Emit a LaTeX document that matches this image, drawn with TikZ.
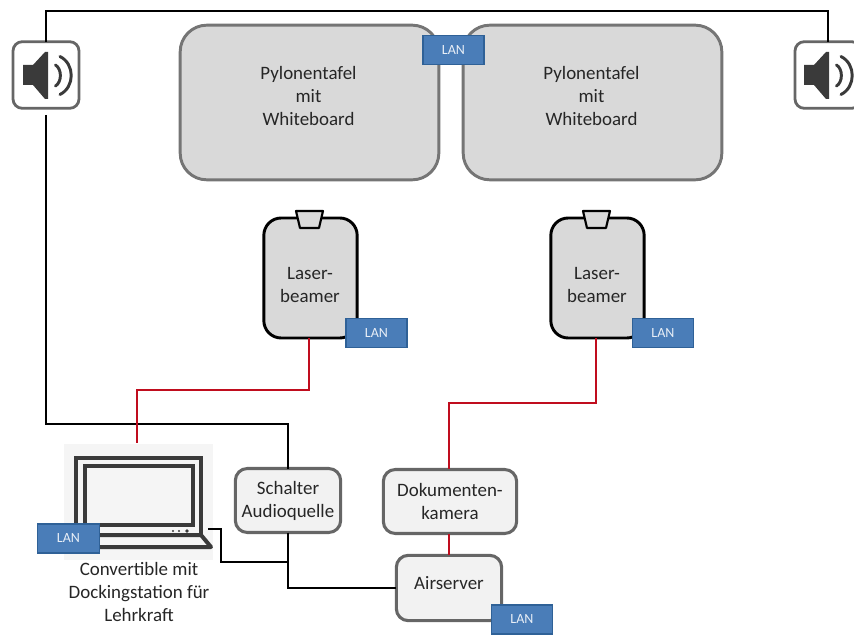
\documentclass[tikz,border=0pt]{standalone}
\usepackage{fontspec}
\setmainfont{Carlito}
\definecolor{panelfill}{HTML}{D9D9D9}
\definecolor{panelline}{HTML}{757575}
\definecolor{softfill}{HTML}{F2F2F2}
\definecolor{softline}{HTML}{666666}
\definecolor{lanfill}{HTML}{4A7DB8}
\definecolor{lanline}{HTML}{2F6197}
\definecolor{redline}{HTML}{C00D1E}
\definecolor{icon}{HTML}{3A3A3A}
\definecolor{txt}{HTML}{262626}
\newcommand{\speakericon}[1]{%
  \begin{scope}[xshift=#1*0.75pt]
    \fill[icon] (23,65)--(33,65)--(45,52)--(48,52)--(48,99)--(45,99)--(33,85)--(23,85)--cycle;
    \draw[icon,line width=2.2pt,line cap=round] (55.5,65) .. controls (62,69) and (62,82) .. (55.5,86);
    \draw[icon,line width=2.2pt,line cap=round] (60,56.5) .. controls (75,64) and (75,87) .. (60,94.5);
  \end{scope}}
\tikzset{
  every node/.style={outer sep=0pt,inner sep=0pt,align=center,text=txt,font=\fontsize{14.2}{17.2}\selectfont},
  panel/.style={draw=panelline,fill=panelfill,line width=2.2pt,rounded corners=20pt,minimum width=194pt,minimum height=116pt},
  beamer/.style={draw=black,fill=panelfill,line width=2.2pt,rounded corners=13pt,minimum width=70pt,minimum height=90pt},
  soft/.style={draw=softline,fill=softfill,line width=2.3pt,rounded corners=9pt},
  spk/.style={draw=softline,fill=white,line width=2.1pt,rounded corners=7pt,minimum width=49.5pt,minimum height=50pt},
  lan/.style={draw=lanline,fill=lanfill,line width=1.1pt,minimum width=45.5pt,minimum height=22pt,text=white!88!lanfill,font=\fontsize{10.5}{12}\selectfont},
  blackwire/.style={draw=black,line width=1.6pt},
  redwire/.style={draw=redline,line width=1.9pt},
  lens/.style={draw=black,fill=panelfill,line width=1.6pt,line join=round},
  laptop/.style={draw=icon,line width=3pt},
}
\begin{document}
\begin{tikzpicture}[x=0.75pt,y=-0.75pt]
\useasboundingbox (0,0) rectangle (854,635);
\clip (0,0) rectangle (854,635);
% laptop backdrop
\fill[black!4] (64,444) rectangle (213,560);
% nodes
\node[spk] (spkL) at (46,75) {};
\node[spk] (spkR) at (828,75) {};
\node[panel] (tafelL) at (309.5,102.5) {};
\node[panel] (tafelR) at (592.5,102.5) {};
\node[beamer] (beamL) at (310.5,278) {};
\node[beamer] (beamR) at (597.5,278) {};
\node[soft,minimum width=79pt,minimum height=48pt] (schalter) at (288,500.5) {Schalter\\Audioquelle};
\node[soft,minimum width=100pt,minimum height=48pt] (doku) at (450,501.5) {Dokumenten-\\kamera};
\node[soft,minimum width=79pt,minimum height=49pt] (air) at (449,588) {};
% texts on the boxes
\node (tafelLtext) at (308.5,96) {Pylonentafel\\mit\\Whiteboard};
\node (tafelRtext) at (591.5,96) {Pylonentafel\\mit\\Whiteboard};
\node (beamLtext) at (310,285) {Laser-\\beamer};
\node (beamRtext) at (597,285) {Laser-\\beamer};
\node (airtext) at (449,583) {Airserver};
\node (lapcap) at (139,592) {Convertible mit\\Dockingstation für\\Lehrkraft};
% free ends and bends
\coordinate (topL) at (spkL.north |- 0,11);
\coordinate (topR) at (spkR.north |- 0,11);
\coordinate (spkLout) at (46,115);
\coordinate (audioBend) at (spkL.north |- 0,424);
\coordinate (lapOut) at (208,529);
\coordinate (lapBend1) at (221,529);
\coordinate (lapBend2) at (221,562);
\coordinate (lapJoin) at (schalter.south |- 0,562);
\coordinate (airBend) at (schalter.south |- air.west);
\coordinate (lapTop) at (137,443);
\coordinate (beamLout) at (309,338);
\coordinate (beamRout) at (596,338);
\coordinate (redL) at (309,390);
\coordinate (redLb) at (137,390);
\coordinate (redR) at (596,403);
\coordinate (redRb) at (449,403);
\coordinate (dokuIn) at (449,469);
% connectors
\draw[blackwire] (spkL.north) -- (topL) -- (topR) -- (spkR.north);
\draw[blackwire] (spkLout) -- (audioBend) -- (schalter.north |- audioBend) -- (schalter.north);
\draw[blackwire] (schalter.south) -- (airBend) -- (air.west);
\draw[blackwire] (lapOut) -- (lapBend1) -- (lapBend2) -- (lapJoin);
\draw[redwire] (beamLout) -- (redL) -- (redLb) -- (lapTop);
\draw[redwire] (beamRout) -- (redR) -- (redRb) -- (dokuIn);
\draw[redwire] (doku.south -| air.north) -- (air.north);
% speaker icons
\speakericon{0}
\speakericon{781}
% projector lenses
\draw[lens] (296,211) -- (323,211) -- (319,228) -- (300,228) -- cycle;
\draw[lens] (583,211) -- (610,211) -- (606,228) -- (587,228) -- cycle;
% laptop
\draw[laptop] (76,533) -- (76,458) -- (201,458) -- (201,535);
\draw[laptop] (85,525) -- (85,466) -- (193,466) -- (193,525) -- cycle;
\draw[laptop,line join=round] (76,535) -- (201,535) -- (211,547) -- (66,547);
\fill[icon] (187,531) circle (1.8) (179,531) circle (1.2) (173,531) circle (1.2);
% LAN tags
\node[lan] (lan1) at (453.5,50) {LAN};
\node[lan] (lan2) at (376.5,333) {LAN};
\node[lan] (lan3) at (663,333) {LAN};
\node[lan,minimum width=46.5pt] (lan4) at (68.5,538.5) {LAN};
\node[lan] (lan5) at (522,619.5) {LAN};
\end{tikzpicture}
\end{document}
